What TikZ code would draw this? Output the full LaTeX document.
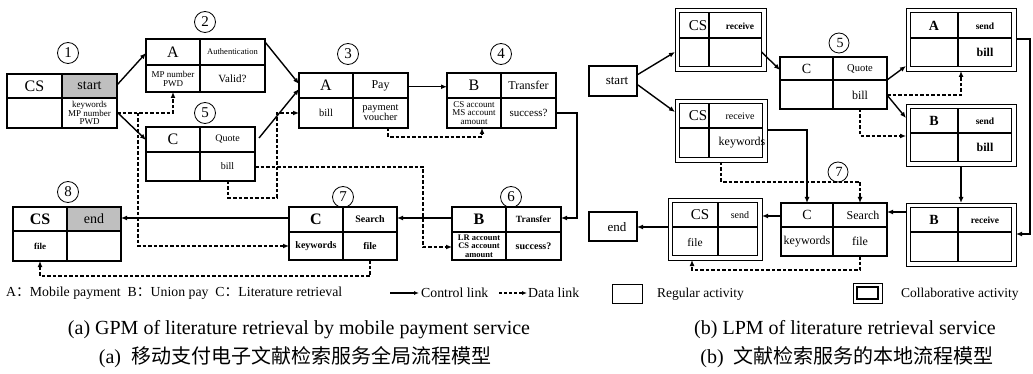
\documentclass[tikz,border=0pt]{standalone}
\usepackage{fontspec}
\setmainfont{Liberation Serif}
\newfontfamily\cjk{Noto Sans CJK SC}
\usetikzlibrary{arrows.meta,calc}
\tikzset{
  box/.style={draw, line width=1.1pt, inner sep=0pt, outer sep=0pt},
  boxline/.style={line width=1.1pt},
  ctrl/.style={line width=1.4pt, -{Latex[length=6pt,width=5pt]}},
  data/.style={line width=1.3pt, dash pattern=on 3.5pt off 2pt, -{Latex[length=6pt,width=5pt]}},
  lab/.style={inner sep=0pt, align=center},
  num/.style={circle, draw, line width=0.8pt, minimum size=21pt, inner sep=0pt, font=\fontsize{15}{15}\selectfont},
  graycell/.style={fill=gray!50},
}
\newcommand\fsz[1]{\fontsize{#1}{#1}\selectfont}
% name, x1, y1, x2, y2, xdiv, ymid
\newcommand\cellbox[7]{%
  \pgfmathsetmacro\bw{#4-#2}\pgfmathsetmacro\bh{#5-#3}%
  \node[box, anchor=north west, minimum width=\bw pt, minimum height=\bh pt] (#1) at (#2,#3) {};
  \draw[boxline] (#6,#3) -- (#6,#5) (#2,#7) -- (#4,#7);
}
% collaborative: name, outer x1,y1,x2,y2, xdiv, ymid
\newcommand\collabbox[7]{%
  \pgfmathsetmacro\bw{#4-#2}\pgfmathsetmacro\bh{#5-#3}%
  \node[box, line width=0.9pt, anchor=north west, minimum width=\bw pt, minimum height=\bh pt] (#1) at (#2,#3) {};
  \pgfmathsetmacro\iw{#4-#2-9}\pgfmathsetmacro\ih{#5-#3-9}%
  \node[box, line width=1.3pt, anchor=north west, minimum width=\iw pt, minimum height=\ih pt] (#1-in) at ($(#2,#3)+(4.5,4.5)$) {};
  \draw[line width=1.3pt] (#6,#3+4.5) -- (#6,#5-4.5) (#2+4.5,#7) -- (#4-4.5,#7);
}
\begin{document}
\begin{tikzpicture}[x=1pt,y=-1pt]
\useasboundingbox (0,0) rectangle (1033,374);
\fill[white] (0,0) rectangle (1033,374);

% ================= LEFT PANEL =================
\fill[graycell] (62,74) rectangle (117,98);
\fill[graycell] (67,207) rectangle (121,231);
\cellbox{b1}{7}{74}{117}{128}{62}{98}
\cellbox{b2}{146}{39}{265}{92}{200}{65}
\cellbox{b5}{146}{127}{255}{181}{200}{152}
\cellbox{b3}{299}{73}{408}{128}{353}{98}
\cellbox{b4}{447}{73}{556}{128}{501}{98}
\cellbox{b6}{452}{207}{561}{260}{506}{232}
\cellbox{b7}{289}{207}{397}{260}{343}{232}
\cellbox{b8}{13}{207}{121}{261}{67}{231}

\node[lab,font=\fsz{16}] (b1a) at (34.5,86) {CS};
\node[lab,font=\fsz{14}] (b1b) at (89.5,86) {start};
\node[lab,font=\fontsize{9}{8.5}\selectfont] (b1c) at (89.5,113) {keywords\\MP number\\PWD};

\node[lab,font=\fsz{16}] (b2a) at (173,52) {A};
\node[lab,font=\fsz{8.5}] (b2b) at (232.5,52) {Authentication};
\node[lab,font=\fontsize{9}{9}\selectfont] (b2c) at (173,78.5) {MP number\\PWD};
\node[lab,font=\fsz{11}] (b2d) at (232.5,78.5) {Valid?};

\node[lab,font=\fsz{16}] (b5a) at (173,139.5) {C};
\node[lab,font=\fsz{10}] (b5b) at (227.5,139.5) {Quote};
\node[lab,font=\fsz{10}] (b5c) at (227.5,166.5) {bill};

\node[lab,font=\fsz{16}] (b3a) at (326,85.5) {A};
\node[lab,font=\fsz{12}] (b3b) at (380.5,85.5) {Pay};
\node[lab,font=\fsz{10.5}] (b3c) at (326,113) {bill};
\node[lab,font=\fontsize{10.5}{10}\selectfont] (b3d) at (380.5,113) {payment\\voucher};

\node[lab,font=\fsz{16}] (b4a) at (474,85.5) {B};
\node[lab,font=\fsz{12}] (b4b) at (528.5,85.5) {Transfer};
\node[lab,font=\fontsize{9}{8.5}\selectfont] (b4c) at (474,113) {CS account\\MS account\\amount};
\node[lab,font=\fsz{11}] (b4d) at (528.5,113) {success?};

\node[lab,font=\bfseries\fsz{16}] (b6a) at (479,219.5) {B};
\node[lab,font=\bfseries\fsz{9.5}] (b6b) at (533.5,219.5) {Transfer};
\node[lab,font=\bfseries\fontsize{8.5}{8.3}\selectfont] (b6c) at (479,246) {LR account\\CS account\\amount};
\node[lab,font=\bfseries\fsz{10}] (b6d) at (533.5,246) {success?};

\node[lab,font=\bfseries\fsz{16}] (b7a) at (316,219.5) {C};
\node[lab,font=\bfseries\fsz{10}] (b7b) at (370,219.5) {Search};
\node[lab,font=\bfseries\fsz{10}] (b7c) at (316,246) {keywords};
\node[lab,font=\bfseries\fsz{10}] (b7d) at (370,246) {file};

\node[lab,font=\bfseries\fsz{16}] (b8a) at (40,219) {CS};
\node[lab,font=\fsz{14}] (b8b) at (94,219) {end};
\node[lab,font=\bfseries\fsz{9}] (b8c) at (40,246) {file};

\node[num] (n1) at (68,53) {1};
\node[num] (n2) at (205,22) {2};
\node[num] (n5) at (205,113) {5};
\node[num] (n3) at (348,54) {3};
\node[num] (n4) at (501,54) {4};
\node[num] (n8) at (68,192) {8};
\node[num] (n7) at (343,197) {7};
\node[num] (n6) at (511,197) {6};

% control links (left)
\draw[ctrl] ($(b1.north east)+(0,11)$) -- ($(b2.north west)+(0,14)$);
\draw[ctrl] ($(b1.north east)+(0,38)$) -- ($(b5.north west)+(0,13)$);
\draw[ctrl] ($(b2.north east)+(0,3)$) -- ($(b3.north west)+(0,11)$);
\draw[ctrl] ($(b5.north east)+(4,11)$) -- ($(b3.north west)+(0,16)$);
\draw[ctrl] ($(b3.north west)!0.5!(b3.west)+(109,0)$) -- ($(b4.north west)!0.5!(b4.west)$);
\coordinate (k1) at (577,113);
\draw[ctrl] ($(b4.east)+(0,12.5)$) -- (k1) |- ($(b6.north east)+(0,11)$);
\draw[ctrl] ($(b6.north west)+(0,11)$) -- ($(b7.north east)+(0,11)$);
\draw[ctrl] ($(b7.north west)+(0,11)$) -- ($(b8.north east)+(0,11)$);

% data links (left)
\coordinate (d0) at (138,113);
\draw[data] ($(b1.south east)+(0,-15)$) -| ($(b2.south west)+(27,0)$);
\draw[data] (d0) |- ($(b7.south west)+(0,-14)$);
\draw[data] ($(b5.south east)+(0,-14)$) -- (423,167) |- ($(b6.south west)+(0,-13)$);
\draw[data] ($(b5.south west)+(82,0)$) -- (228,198) -- (277,198) |- ($(b3.south west)+(0,-15)$);
\draw[data] ($(b3.south west)+(89,0)$) -- (388,137) -| ($(b4.south west)+(35,0)$);
\draw[data] ($(b7.south west)+(81,0)$) -- (370,276) -| ($(b8.south west)+(27,0)$);

% legend (left)
\node[lab,anchor=west,font=\fsz{13.8}] (lg1) at (6,293) {A{\cjk ：}Mobile payment\ \ B{\cjk ：}Union pay\ \ C{\cjk ：}Literature retrieval};
\coordinate (la1) at (390,293);
\coordinate (la2) at (419,293);
\draw[line width=1.2pt,-{Latex[length=5pt,width=4pt]}] (la1) -- (la2);
\node[lab,anchor=west,font=\fsz{13.8}] (lg2) at (421,293) {Control link};
\coordinate (la3) at (499,293);
\coordinate (la4) at (527,293);
\draw[line width=1.2pt,dash pattern=on 3pt off 2pt,-{Latex[length=5pt,width=4pt]}] (la3) -- (la4);
\node[lab,anchor=west,font=\fsz{13.8}] (lg3) at (528,293) {Data link};

% ================= RIGHT PANEL =================
\node[box, anchor=north west, minimum width=48pt, minimum height=30pt] (rs) at (589,66) {};
\node[lab,font=\fsz{13}] (rst) at (617,81) {start};
\node[box, anchor=north west, minimum width=48pt, minimum height=29pt] (re) at (589,212) {};
\node[lab,font=\fsz{13}] (ret) at (617,227) {end};

\collabbox{r1}{675}{8}{766}{71}{709}{38}
\collabbox{r2}{675}{99}{767}{162}{709}{128}
\cellbox{r3}{780}{57}{887}{109}{833}{80}
\collabbox{r4}{906}{8}{1016}{71}{958}{38}
\collabbox{r5}{906}{104}{1016}{166}{958}{133}
\collabbox{r6}{906}{203}{1016}{266}{958}{232}
\cellbox{r7}{781}{203}{887}{256}{833}{227}
\collabbox{r8}{668}{198}{762}{260}{718}{227}

\node[lab,font=\fsz{15}] (r1a) at (698,26) {CS};
\node[lab,font=\bfseries\fsz{9.5}] (r1b) at (740,26) {receive};
\node[lab,font=\fsz{15}] (r2a) at (698,116) {CS};
\node[lab,font=\fsz{10}] (r2b) at (740,116) {receive};
\node[lab,font=\fsz{12}] (r2c) at (742,143) {keywords};
\node[lab,font=\fsz{14}] (r3a) at (806.5,68.5) {C};
\node[lab,font=\fsz{10.5}] (r3b) at (860,68.5) {Quote};
\node[lab,font=\fsz{12}] (r3c) at (860,95) {bill};
\node[lab,font=\bfseries\fsz{14}] (r4a) at (934,26) {A};
\node[lab,font=\bfseries\fsz{9.5}] (r4b) at (985,26) {send};
\node[lab,font=\bfseries\fsz{12}] (r4c) at (985,52) {bill};
\node[lab,font=\bfseries\fsz{14}] (r5a) at (934,121) {B};
\node[lab,font=\bfseries\fsz{9.5}] (r5b) at (985,121) {send};
\node[lab,font=\bfseries\fsz{12}] (r5c) at (985,147.5) {bill};
\node[lab,font=\bfseries\fsz{14}] (r6a) at (934,220) {B};
\node[lab,font=\bfseries\fsz{9.5}] (r6b) at (985,220) {receive};
\node[lab,font=\fsz{14}] (r7a) at (807,215) {C};
\node[lab,font=\fsz{12}] (r7b) at (863,215) {Search};
\node[lab,font=\fsz{12}] (r7c) at (807,241.5) {keywords};
\node[lab,font=\fsz{12}] (r7d) at (860,241.5) {file};
\node[lab,font=\fsz{15}] (r8a) at (700,215) {CS};
\node[lab,font=\fsz{10}] (r8b) at (740,215) {send};
\node[lab,font=\fsz{11.5}] (r8c) at (695,243) {file};

\node[num,minimum size=20pt,font=\fsz{14}] (rn5) at (839,43) {\hspace{2pt}5};
\node[num,minimum size=20pt,font=\fsz{14}] (rn7) at (838,172) {\hspace{2pt}7};

% control links (right)
\draw[ctrl] ($(rs.east)+(0,-6)$) -- ($(r1.west)+(0,12.5)$);
\draw[ctrl] ($(rs.east)+(1,4)$) -- ($(r2.west)+(0,-18.5)$);
\draw[ctrl] ($(r1-in.east)+(0,12.5)$) -- ($(r3.north west)+(0,13)$);
\draw[ctrl] ($(r3.east)+(0,-3)$) -- ($(r4.south west)+(0,-5)$);
\draw[ctrl] ($(r3.east)+(0,12)$) -- ($(r5.north west)+(0,14)$);
\coordinate (k2) at (1030,39);
\draw[ctrl] ($(r4.east)+(0,-0.5)$) -- (k2) |- ($(r6.east)+(0,-0.5)$);
\draw[ctrl] ($(r5.south west)+(55,0)$) -- ($(r6.north west)+(55,0)$);
\draw[ctrl] ($(r6.north west)+(0,9)$) -- ($(r7.north east)+(0,9)$);
\coordinate (k3) at (807,130);
\draw[ctrl] ($(r2.east)+(0,-0.5)$) -- (k3) -- ($(r7.north west)+(26,0)$);
\draw[ctrl] ($(r7.north west)+(0,13)$) -- ($(r8.north east)+(0,18)$);
\draw[ctrl] ($(r8.west)+(0,-2)$) -- ($(re.east)+(0,0.5)$);

% data links (right)
\draw[data] ($(r3.south east)+(0,-14)$) -| ($(r4.south west)+(55,0)$);
\draw[data] ($(r3.south west)+(80,0)$) |- ($(r5.north west)+(0,32)$);
\coordinate (k4) at (721,182);
\draw[data] ($(r2.south west)+(46,0)$) -- (k4) -| ($(r7.north west)+(79,0)$);
\coordinate (k5) at (860,270);
\draw[data] ($(r7.south west)+(79,0)$) -- (k5) -| ($(r8.south west)+(24,0)$);

% legend (right)
\node[box, line width=0.9pt, anchor=north west, minimum width=30pt, minimum height=19pt] (lr1) at (612,284) {};
\node[lab,anchor=west,font=\fsz{13.5}] (lr1t) at (657,294) {Regular activity};
\node[box, line width=0.9pt, anchor=north west, minimum width=29pt, minimum height=20pt] (lr2) at (853,283) {};
\node[box, line width=1.2pt, anchor=north west, minimum width=21pt, minimum height=12pt] (lr2i) at (857,287) {};
\node[lab,anchor=west,font=\fsz{13.5}] (lr2t) at (901,294) {Collaborative activity};

% captions
\node[lab,font=\fsz{20}] (capa) at (299,330) {(a) GPM of literature retrieval by mobile payment service};
\node[lab,font=\fsz{20}] (capac) at (295,357) {(a)\ \ {\cjk 移动支付电子文献检索服务全局流程模型}};
\node[lab,font=\fsz{20}] (capb) at (845,330) {(b) LPM of literature retrieval service};
\node[lab,font=\fsz{20}] (capbc) at (847,357) {(b)\ \ {\cjk 文献检索服务的本地流程模型}};
\end{tikzpicture}
\end{document}
